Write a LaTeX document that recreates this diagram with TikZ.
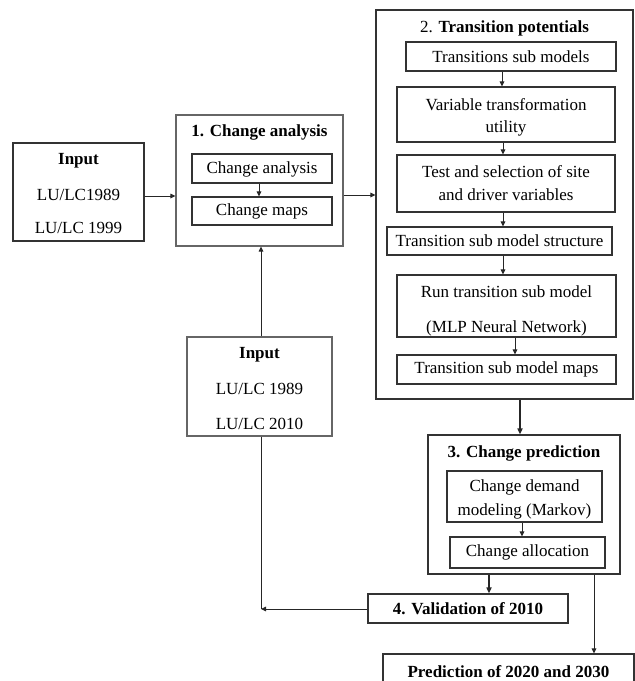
\documentclass[tikz,border=0pt]{standalone}
\usepackage{fontspec}
\setmainfont{Liberation Serif}
\usetikzlibrary{arrows.meta,calc}
\tikzset{
  bx/.style={draw=black!80, line width=1.1pt, rectangle, inner sep=0pt, fill=white},
  lbx/.style={draw=black!60, line width=1.1pt, rectangle, inner sep=0pt, fill=white},
  txt/.style={inner sep=0pt, font=\fontsize{17}{20}\selectfont},
  btxt/.style={inner sep=0pt, font=\fontsize{17}{20}\selectfont\bfseries},
  arr/.style={draw=black!85, line width=1pt, -{Triangle[length=5pt,width=4.5pt]}},
  tarr/.style={draw=black!85, line width=1.8pt, -{Triangle[length=6pt,width=5pt]}},
  ln/.style={draw=black!85, line width=1pt}
}
\begin{document}
\begin{tikzpicture}[x=1pt,y=-1pt]
\clip (0,0) rectangle (635,681);
\fill[white] (0,0) rectangle (635,681);

% Input 1
\node[bx, minimum width=131pt, minimum height=98pt] (in1) at (78.5,192) {};
\node[btxt] (in1t) at (78.5,161) {Input};
\node[txt] (in1a) at (78.5,195) {LU/LC1989};
\node[txt] (in1b) at (78.5,228) {LU/LC 1999};

% Box 1
\node[lbx, minimum width=167pt, minimum height=131pt] (b1) at (259.5,180.5) {};
\node[btxt] (b1t) at (259.5,132) {1. Change analysis};
\node[bx, minimum width=140pt, minimum height=29pt] (ca) at (262,168.5) {};
\node[txt] (cat) at (262,169) {Change analysis};
\node[bx, minimum width=140pt, minimum height=28pt] (cm) at (262,211) {};
\node[txt] (cmt) at (262,211) {Change maps};

% Input 2
\node[lbx, minimum width=145pt, minimum height=99pt] (in2) at (259.5,386.5) {};
\node[btxt] (in2t) at (259.5,355) {Input};
\node[txt] (in2a) at (259.5,389) {LU/LC 1989};
\node[txt] (in2b) at (259.5,424) {LU/LC 2010};

% Box 2
\node[bx, minimum width=257pt, minimum height=389pt] (b2) at (504.5,204.5) {};
\node[txt] (b2t) at (504.5,28) {2. \textbf{Transition potentials}};
\node[bx, minimum width=210pt, minimum height=29pt] (tsm) at (511,56.5) {};
\node[txt] (tsmt) at (511,56.5) {Transitions sub models};
\node[bx, minimum width=218pt, minimum height=55pt] (var) at (506,114.5) {};
\node[txt] (var1) at (506,105) {Variable transformation};
\node[txt] (var2) at (506,128) {utility};
\node[bx, minimum width=218pt, minimum height=57pt] (test) at (506,183.5) {};
\node[txt] (test1) at (506,172) {Test and selection of site};
\node[txt] (test2) at (506,195) {and driver variables};
\node[bx, minimum width=225pt, minimum height=28pt] (str) at (499.5,241) {};
\node[txt] (strt) at (499.5,241) {Transition sub model structure};
\node[bx, minimum width=219pt, minimum height=62pt] (run) at (506.5,306) {};
\node[txt] (run1) at (506.5,292) {Run transition sub model};
\node[txt] (run2) at (506.5,328) {(MLP Neural Network)};
\node[bx, minimum width=219pt, minimum height=29pt] (maps) at (506.5,369.5) {};
\node[txt] (mapst) at (506.5,369.5) {Transition sub model maps};

% Box 3
\node[bx, minimum width=192pt, minimum height=139pt] (b3) at (524,504.5) {};
\node[btxt] (b3t) at (524,453) {3. Change prediction};
\node[bx, minimum width=155pt, minimum height=51pt] (dem) at (524.5,496.5) {};
\node[txt] (dem1) at (524.5,487) {Change demand};
\node[txt] (dem2) at (524.5,511) {modeling (Markov)};
\node[bx, minimum width=155pt, minimum height=31pt] (alo) at (527.5,552.5) {};
\node[txt] (alot) at (527.5,552.5) {Change allocation};

% Validation
\node[bx, minimum width=200pt, minimum height=29pt] (val) at (468,608.5) {};
\node[btxt] (valt) at (468,609) {4. Validation of 2010};

% Prediction
\node[bx, minimum width=251pt, minimum height=50pt] (pred) at (508.5,679) {};
\node[btxt] (predt) at (508.5,672) {Prediction of 2020 and 2030};

\coordinate (corner) at (261,609);

% Connectors
\draw[arr] (in1.east |- 0,196) -- (b1.west |- 0,196);
\draw[arr] (259,0 |- ca.south) -- (259,0 |- cm.north);
\draw[arr] (b1.east |- 0,195) -- (b2.west |- 0,195);
\draw[arr] (261,0 |- in2.north) -- (261,0 |- b1.south);
\draw[arr] (502,0 |- tsm.south) -- (502,0 |- var.north);
\draw[arr] (503,0 |- var.south) -- (503,0 |- test.north);
\draw[arr] (503,0 |- test.south) -- (503,0 |- str.north);
\draw[arr] (503,0 |- str.south) -- (503,0 |- run.north);
\draw[arr] (515,0 |- run.south) -- (515,0 |- maps.north);
\draw[tarr] (520,0 |- b2.south) -- (520,0 |- b3.north);
\draw[arr] (522,0 |- dem.south) -- (522,0 |- alo.north);
\draw[tarr] (489,0 |- b3.south) -- (489,0 |- val.north);
\draw[arr] (594,0 |- b3.south) -- (594,0 |- pred.north);
\draw[arr] (val.west |- corner) -- (corner);
\draw[ln] (261,0 |- in2.south) -- (corner);
\end{tikzpicture}
\end{document}
